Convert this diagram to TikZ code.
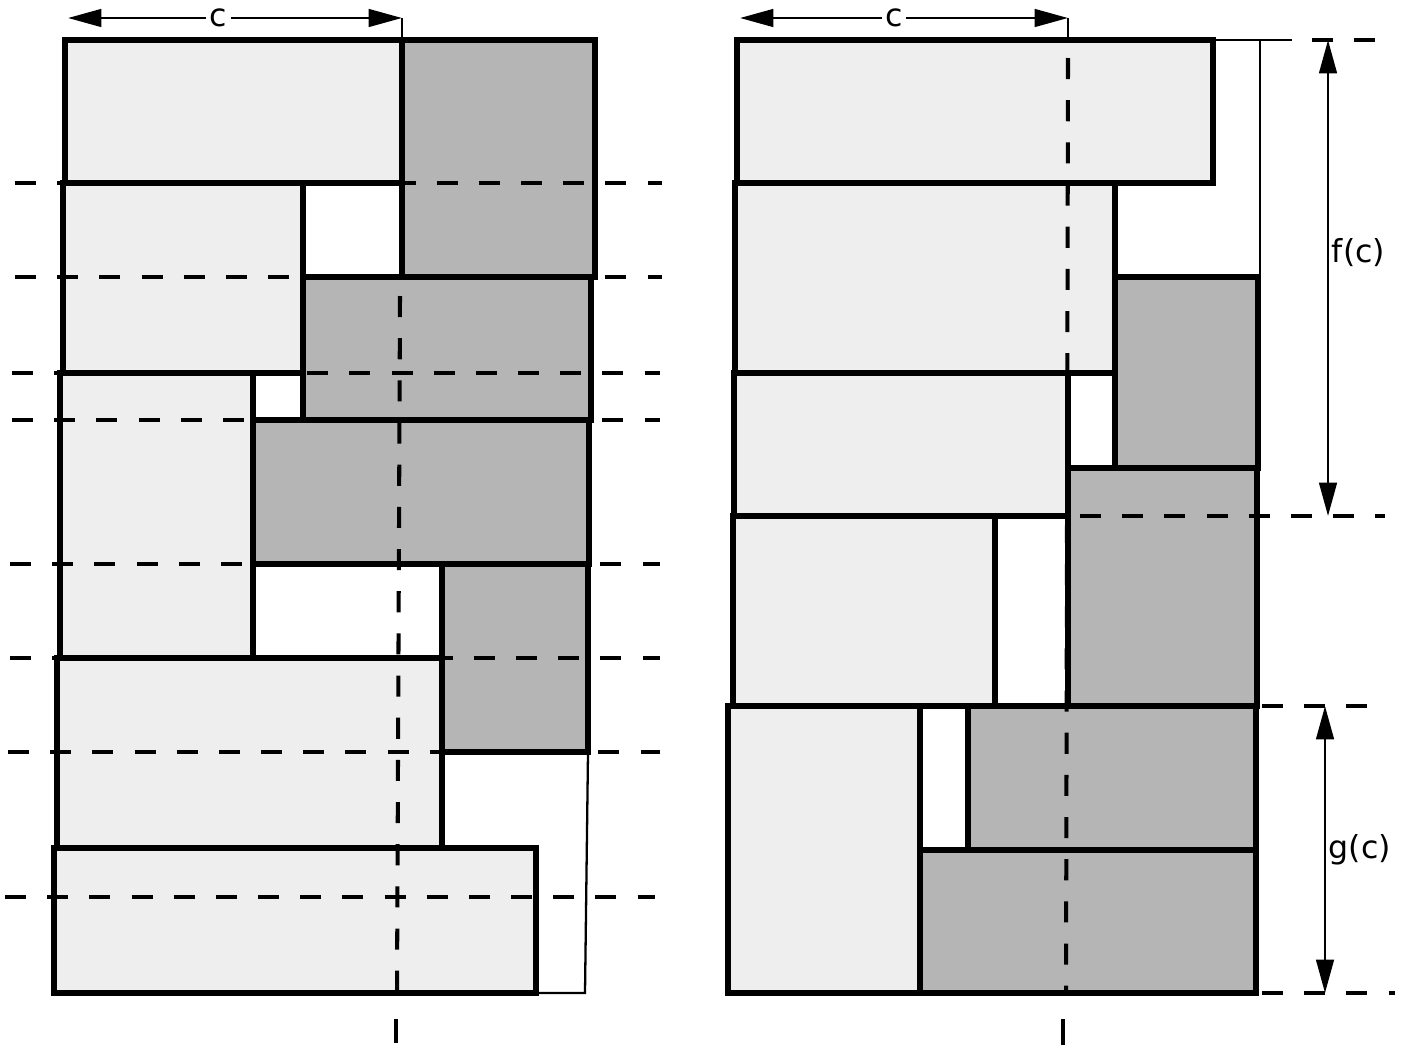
\documentclass[tikz,border=0pt]{standalone}
\usepackage{fontspec}
\newfontfamily\labfont{DejaVu Sans}
\usetikzlibrary{arrows.meta}

\tikzset{
  lightbox/.style={draw, line width=3pt, fill=gray!13},
  darkbox/.style={draw, line width=3pt, fill=gray!58},
  thinedge/.style={line width=1.3pt},
  cutline/.style={line width=2.3pt, dash pattern=on 12pt off 12pt},
  dimline/.style={line width=1.6pt,
    {Triangle[length=19pt,width=10pt]}-{Triangle[length=19pt,width=10pt]}},
  lab/.style={font=\labfont\fontsize{18}{20}\selectfont, inner sep=2pt},
}

\begin{document}
\begin{tikzpicture}[x=0.02cm, y=-0.02cm]
  \useasboundingbox (0,0) rectangle (1408,1048);

  % ---------------- left packing ----------------
  \begin{scope}
    % pieces
    \foreach \xa/\ya/\xb/\yb in {65/40/402/183, 63/183/303/373, 60/373/253/658,
                                 57/658/442/848, 54/848/536/993}
      \draw[lightbox] (\xa,\ya) rectangle (\xb,\yb);
    \foreach \xa/\ya/\xb/\yb in {402/40/595/277, 303/277/591/420,
                                 253/420/589/564, 442/564/588/752}
      \draw[darkbox] (\xa,\ya) rectangle (\xb,\yb);
    % open corner of the strip
    \draw[thinedge] (588,752) -- (585,993) -- (536,993);
    % level lines
    \foreach \y/\xa/\xb in {183/15/662, 277/15/662, 373/12/660, 420/12/660,
                            564/10/660, 658/10/660, 752/8/660, 897/5/655}
      \draw[cutline] (\xa,\y) -- (\xb,\y);
    % cut at c
    \draw[cutline] (400,296) -- (397,993);
    \draw[line width=2.3pt] (396,1019) -- (396,1043);
    % width c
    \coordinate (cLa) at (68,18);
    \coordinate (cLb) at (402,18);
    \coordinate (cLtop) at (402,40);
    \draw[dimline] (cLa) -- node[lab, fill=white, pos=0.45] (cLlab) {c} (cLb);
    \draw[thinedge] (cLb) -- (cLtop);
  \end{scope}

  % ---------------- right packing ----------------
  \begin{scope}
    % pieces
    \foreach \xa/\ya/\xb/\yb in {737/40/1213/183, 735/183/1115/373,
                                 734/373/1068/516, 733/516/995/706, 728/706/920/993}
      \draw[lightbox] (\xa,\ya) rectangle (\xb,\yb);
    \foreach \xa/\ya/\xb/\yb in {1115/277/1258/468, 1068/468/1257/706,
                                 968/706/1256/850, 920/850/1256/993}
      \draw[darkbox] (\xa,\ya) rectangle (\xb,\yb);
    % open corner of the strip
    \draw[thinedge] (1213,40) -- (1292,40);
    \draw[thinedge] (1260,40) -- (1260,277);
    % level lines
    \draw[cutline] (1312,40) -- (1385,40);
    \draw[cutline] (1080,516) -- (1385,516);
    \draw[cutline] (1262,706) -- (1385,706);
    \draw[cutline] (1262,993) -- (1395,993);
    % cut at c
    \draw[cutline] (1068,58) -- (1066,993);
    \draw[line width=2.3pt] (1063,1019) -- (1063,1045);
    % width c
    \coordinate (cRa) at (740,18);
    \coordinate (cRb) at (1068,18);
    \coordinate (cRtop) at (1068,40);
    \draw[dimline] (cRa) -- node[lab, fill=white, pos=0.47] (cRlab) {c} (cRb);
    \draw[thinedge] (cRb) -- (cRtop);
    % heights f(c) and g(c)
    \coordinate (fTop) at (1328,40);
    \coordinate (fBot) at (1328,516);
    \coordinate (gTop) at (1325,706);
    \coordinate (gBot) at (1325,993);
    \draw[dimline] (fTop) -- (fBot);
    \draw[dimline] (gTop) -- (gBot);
    \node[lab, anchor=west] (fLab) at (1328,253) {f(c)};
    \node[lab, anchor=west] (gLab) at (1325,850) {g(c)};
  \end{scope}
\end{tikzpicture}
\end{document}
